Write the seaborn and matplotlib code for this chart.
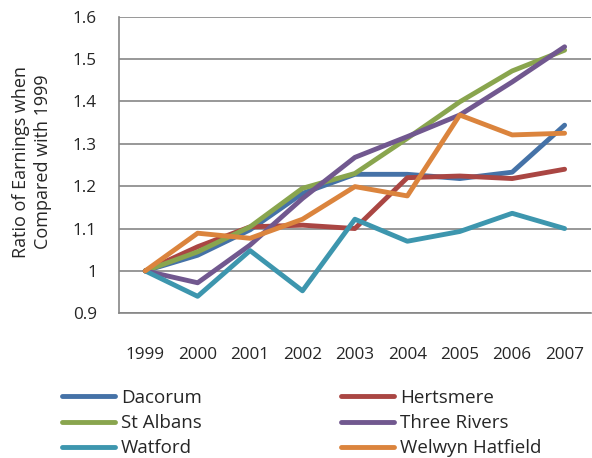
import numpy as np
import pandas as pd
import matplotlib
matplotlib.use("Agg")
import matplotlib.pyplot as plt
import seaborn as sns

# data
years = ["1999", "2000", "2001", "2002", "2003", "2004", "2005", "2006", "2007"]
dacorum = [1.0, 1.037, 1.097, 1.183, 1.228, 1.228, 1.218, 1.233, 1.344]
hertsmere = [1.0, 1.057, 1.104, 1.108, 1.100, 1.220, 1.224, 1.218, 1.240]
st_albans = [1.0, 1.045, 1.104, 1.195, 1.230, 1.313, 1.399, 1.472, 1.521]
three_rivers = [1.0, 0.972, 1.061, 1.171, 1.268, 1.317, 1.368, 1.446, 1.529]
watford = [1.0, 0.940, 1.048, 0.953, 1.122, 1.070, 1.093, 1.136, 1.100]
welwyn = [1.0, 1.089, 1.077, 1.122, 1.199, 1.177, 1.368, 1.321, 1.325]

names = ["Dacorum", "Hertsmere", "St Albans", "Three Rivers", "Watford", "Welwyn Hatfield"]
series = [dacorum, hertsmere, st_albans, three_rivers, watford, welwyn]
colors = ["#4572A7", "#AA4643", "#89A54E", "#71588F", "#3D96AE", "#DB843D"]

rows = []
for n, vals in zip(names, series):
    for i, v in enumerate(vals):
        rows.append({"district": n, "pos": i, "year": years[i], "ratio": v})
df = pd.DataFrame(rows)

sns.set_style("white")
plt.rcParams['font.family'] = ['Open Sans', 'DejaVu Sans']
fs = 12.3      # tick labels
fs_leg = 13.5  # legend text
fs_lab = 13    # axis title

fig = plt.figure(figsize=(5.92, 4.58), dpi=100)
ax = fig.add_axes([0.201, 0.316, 0.797, 0.6475])

sns.lineplot(data=df, x="pos", y="ratio", hue="district", palette=colors,
             hue_order=names, linewidth=3.5, ax=ax, legend=False, zorder=3)

grid_c = "#868686"
ax.set_xlim(-0.5, 8.5)
ax.set_ylim(0.9, 1.6)
ax.set_yticks(np.arange(0.9, 1.61, 0.1))
ax.set_yticklabels(["0.9", "1", "1.1", "1.2", "1.3", "1.4", "1.5", "1.6"])
ax.yaxis.grid(True, color=grid_c, linewidth=1.2)
ax.set_axisbelow(True)

ax.set_xticks(range(9))
ax.set_xticklabels(years)
ax.set_xticks(np.arange(-0.5, 9, 1), minor=True)
ax.tick_params(axis="x", which="major", length=0, pad=24, labelsize=fs)
ax.tick_params(axis="x", which="minor", length=5, width=1.2, color=grid_c, direction="out")
ax.tick_params(axis="y", length=6, width=1.2, color=grid_c, direction="out", pad=10, labelsize=fs)
ax.set_xlabel("")
ax.set_ylabel("")

for s in ["top", "right"]:
    ax.spines[s].set_visible(False)
for s in ["left", "bottom"]:
    ax.spines[s].set_color(grid_c)
    ax.spines[s].set_linewidth(1.2)

fig.text(32 / 592, 1 - 162 / 458, "Ratio of Earnings when\nCompared with 1999",
         rotation=90, ha="center", va="center", fontsize=fs_lab, multialignment="center",
         linespacing=1.25)

# legend, filled row by row like the original
handles = [plt.Line2D([], [], color=c, linewidth=3.5) for c in colors]
order = [0, 2, 4, 1, 3, 5]
fig.legend([handles[i] for i in order], [names[i] for i in order], ncol=2,
           loc="upper left", bbox_to_anchor=(62 / 592, 1 - 389 / 458),
           frameon=False, fontsize=fs_leg, handlelength=2.83, handletextpad=0.32,
           columnspacing=7.4, labelspacing=0.38, borderpad=0, borderaxespad=0)

fig.savefig("out.png", dpi=100)
